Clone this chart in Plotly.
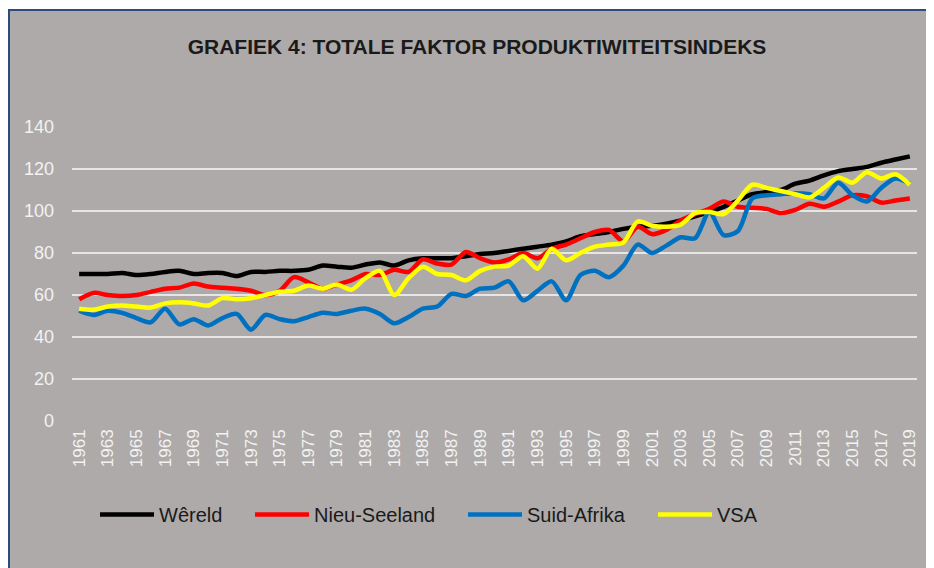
import plotly.graph_objects as go

years = list(range(1961, 2020))

wereld = [70, 70, 70, 70.5, 69.5, 70, 71, 71.5, 70, 70.5, 70.5, 69, 71, 71, 71.5, 71.5, 72, 74, 73.5, 73,
          74.5, 75.5, 74, 76.5, 77.5, 77.5, 77.5, 78.5, 79.5, 80, 81, 82, 83, 84, 85.5, 88, 89, 90, 91.5, 92.5,
          93, 94, 95.5, 97.5, 99.5, 102, 105, 108, 109, 110, 113, 114.5, 117, 119, 120, 121, 123, 124.5, 126]

nieu_seeland = [58, 61, 60, 59.5, 60, 61.5, 63, 63.5, 65.5, 64, 63.5, 63, 62, 60, 62, 68.5, 66, 63, 65, 67,
                70, 69.5, 72, 71, 77, 75, 74.5, 80.5, 77.5, 75.5, 77, 80, 77.5, 82, 84, 87, 90, 91, 85.5, 92.5,
                89, 91, 95.5, 98.5, 101, 104.5, 102, 101.5, 101, 99, 100.5, 103.5, 102, 104.5, 107.5, 107, 104, 105, 106]

suid_afrika = [52.5, 50.5, 52.5, 51.5, 49, 47, 53.5, 46, 48.5, 45.5, 49, 51, 43.5, 50.5, 48.5, 47.5, 49.5, 51.5, 51, 52.5,
               53.5, 51, 46.5, 49.5, 53.5, 54.5, 60.5, 59.5, 63, 63.5, 66.5, 57.5, 62, 66.5, 57.5, 69.5, 71.5, 68.5, 74, 84,
               80, 83.5, 87.5, 87, 99.5, 88.5, 90.5, 106, 107.5, 108, 108.5, 108, 106, 113.5, 107.5, 104.5, 111, 115.5, 113]

vsa = [53.5, 53, 54.5, 55, 54.5, 54, 56, 56.5, 56, 55, 58.5, 58, 58.5, 60, 61.5, 62, 64.5, 63, 65, 62.5,
       68, 71.5, 60, 68, 73.5, 70, 69.5, 67, 71.5, 73.5, 74, 78.5, 72.5, 82, 76.5, 80, 83, 84, 85, 95,
       93, 92.5, 93.5, 99, 99.5, 98.5, 105, 112.5, 111, 109.5, 108, 106.5, 111, 116, 113.5, 118.5, 115.5, 117.5, 112.5]

series_names = ["Wêreld", "Nieu-Seeland", "Suid-Afrika", "VSA"]
series_values = [wereld, nieu_seeland, suid_afrika, vsa]
series_colors = ["#000000", "#ff0000", "#0070c0", "#ffff00"]

tick_years = years[::2]
tick_labels = [str(y) for y in tick_years]

FONT = "Liberation Sans, Arial, sans-serif"

# page has an 8px body margin: figure occupies screen px 8..934 x 8..568
OFF = 8
FW, FH = 934 - OFF, 568 - OFF
# plot area (screen px): x 72..917, y 127..421
L, R = 72 - OFF, FW - (917 - OFF)
T, B = 127 - OFF, FH - (421 - OFF)
W, H = FW - L - R, FH - T - B

def px_x(p):
    return (p - OFF - L) / W

def px_y(p):
    return (FH - B - (p - OFF)) / H

legend_ids = ["legend", "legend2", "legend3", "legend4"]
legend_left_px = [95, 250, 463, 653]

fig = go.Figure()
for name, vals, col, lid in zip(series_names, series_values, series_colors, legend_ids):
    fig.add_trace(go.Scatter(x=years, y=vals, name=name, mode="lines", legend=lid,
                             line=dict(color=col, width=4.5, shape="spline", smoothing=0.8)))

fig.add_shape(type="rect", xref="paper", yref="paper", layer="below",
              x0=px_x(9), x1=px_x(950), y0=px_y(590), y1=px_y(10),
              fillcolor="#aeaaa9", line=dict(color="#2f4a7f", width=2))

legend_style = dict(orientation="h", xanchor="left", yanchor="top", y=px_y(495),
                    font=dict(size=20, color="#1a1a1a", family=FONT),
                    bgcolor="rgba(0,0,0,0)", itemwidth=54)

layout_legends = {lid: dict(legend_style, x=px_x(xp)) for lid, xp in zip(legend_ids, legend_left_px)}

fig.update_layout(
    width=FW, height=FH,
    margin=dict(l=L, r=R, t=T, b=B, autoexpand=False),
    paper_bgcolor="#ffffff",
    plot_bgcolor="rgba(0,0,0,0)",
    font=dict(family=FONT, color="#f2f2f2"),
    title=dict(text="<b>GRAFIEK 4: TOTALE FAKTOR PRODUKTIWITEITSINDEKS</b>",
               x=(477 - OFF) / FW, xanchor="center", y=1 - (47 - OFF) / FH, yanchor="middle",
               font=dict(family=FONT, size=21, color="#1a1a1a")),
    xaxis=dict(range=[1960.5, 2019.5], tickmode="array", tickvals=tick_years, ticktext=tick_labels,
               tickangle=-90, tickfont=dict(size=17, color="#f2f2f2"), showgrid=False, zeroline=False,
               showline=False, ticks="", ticklen=0, ticklabelstandoff=4),
    yaxis=dict(range=[0, 140], dtick=20, tickfont=dict(size=18, color="#f2f2f2"),
               gridcolor="#e6e6e6", gridwidth=2, zeroline=False, showline=False, ticks="",
               ticklabelstandoff=17),
    showlegend=True,
    **layout_legends,
)

fig.write_html("out.html")
